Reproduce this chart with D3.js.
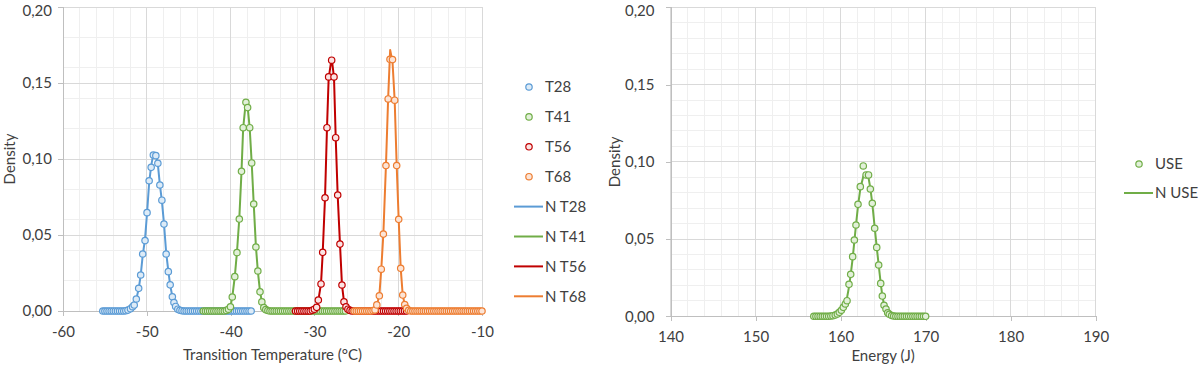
<!DOCTYPE html>
<html><head><meta charset="utf-8">
<script src="https://cdn.jsdelivr.net/npm/d3@7"></script>
<style>
body{margin:0;background:#fff}
svg{display:block}
text{font-family:Lato,"Open Sans",sans-serif;fill:#404040}
</style>
</head><body>
<svg id="c" width="1200" height="367"></svg>
<script>
// ---------- DATA ----------
const leftXTicks = [-60, -50, -40, -30, -20, -10];
const rightXTicks = [140, 150, 160, 170, 180, 190];
const yTicks = [0, 0.05, 0.10, 0.15, 0.20];
const leftXTitle = "Transition Temperature (°C)";
const rightXTitle = "Energy (J)";
const yTitle = "Density";
const leftNames = ["T28", "T41", "T56", "T68", "N T28", "N T41", "N T56", "N T68"];
const rightNames = ["USE", "N USE"];

const t28 = [[-55.25,0],[-55,0],[-54.75,0],[-54.5,0],[-54.25,0],[-54,0],[-53.75,0],[-53.5,0],[-53.25,0],[-53,0],[-52.75,0],[-52.5,0.0002],[-52.25,0.0006],
 [-51.95,0.0015],[-51.7,0.0028],[-51.5,0.0039],[-51.25,0.0079],[-50.97,0.0149],[-50.73,0.0237],[-50.49,0.0375],[-50.21,0.0463],[-49.97,0.0647],[-49.72,0.0857],[-49.48,0.0945],[-49.22,0.1026],[-48.92,0.1022],[-48.68,0.0972],[-48.44,0.0829],[-48.2,0.0729],[-47.95,0.0572],[-47.69,0.0375],[-47.43,0.0259],[-47.21,0.0172],[-46.95,0.0093],[-46.76,0.0056],[-46.56,0.003],[-46.3,0.0012],
 [-46.05,0.0005],[-45.8,0.0002],[-45.55,0],[-45.3,0],[-45.05,0],[-44.8,0],[-44.55,0],[-44.3,0],[-44.05,0],[-43.8,0],[-43.55,0],[-43.3,0],[-43.05,0],[-42.8,0],[-42.55,0],[-42.3,0],[-42.05,0],[-41.8,0],[-41.55,0],[-41.3,0],[-41.05,0],[-40.8,0],[-40.55,0],[-40.3,0],[-40.05,0],[-39.8,0],[-39.55,0],[-39.3,0],[-39.05,0],[-38.8,0],[-38.55,0],[-38.3,0],[-38.05,0],[-37.8,0],[-37.55,0]];

const t41 = [[-43.25,0],[-43,0],[-42.75,0],[-42.5,0],[-42.25,0],[-42,0],[-41.75,0],[-41.5,0],[-41.25,0],[-41,0],[-40.75,0],[-40.5,0.0004],[-40.25,0.0012],
 [-40.02,0.0028],[-39.8,0.0092],[-39.5,0.0226],[-39.24,0.0384],[-38.96,0.0605],[-38.7,0.0919],[-38.5,0.1206],[-38.17,0.1373],[-37.97,0.1338],[-37.72,0.1206],[-37.48,0.0974],[-37.24,0.0704],[-36.98,0.0421],[-36.75,0.0263],[-36.49,0.0126],[-36.27,0.006],[-36.04,0.0022],
 [-35.8,0.0009],[-35.55,0.0003],[-35.3,0],[-35.05,0],[-34.8,0],[-34.55,0],[-34.3,0],[-34.05,0],[-33.8,0],[-33.55,0],[-33.3,0],[-33.05,0],[-32.8,0],[-32.55,0],[-32.3,0],[-32.05,0],[-31.8,0],[-31.55,0],[-31.3,0],[-31.05,0],[-30.8,0],[-30.55,0],[-30.3,0],[-30.05,0],[-29.8,0],[-29.55,0],[-29.3,0],[-29.05,0],[-28.8,0],[-28.55,0],[-28.3,0],[-28.05,0],[-27.8,0],[-27.55,0],[-27.3,0],[-27.05,0],[-26.8,0],[-26.55,0],[-26.3,0]];

const t56 = [[-32.25,0],[-32,0],[-31.75,0],[-31.5,0],[-31.25,0],[-31,0],[-30.75,0],[-30.5,0],[-30.25,0.0005],[-30,0.0012],
 [-29.73,0.0024],[-29.53,0.0072],[-29.21,0.0178],[-29.01,0.0386],[-28.73,0.0745],[-28.5,0.1206],[-28.3,0.154],[-27.94,0.165],[-27.66,0.154],[-27.46,0.114],[-27.22,0.0763],[-26.95,0.044],[-26.71,0.0171],[-26.47,0.0061],[-26.23,0.0028],
 [-26,0.0012],[-25.75,0.0004],[-25.5,0],[-25.25,0],[-25,0],[-24.75,0],[-24.5,0],[-24.25,0],[-24,0],[-23.75,0],[-23.5,0],[-23.25,0],[-23,0],[-22.75,0],[-22.5,0],[-22.25,0],[-22,0],[-21.75,0],[-21.5,0],[-21.25,0],[-21,0],[-20.75,0],[-20.5,0],[-20.25,0],[-20,0],[-19.75,0],[-19.5,0],[-19.25,0],[-19,0]];

const t68 = [[-25.25,0],[-25,0],[-24.75,0],[-24.5,0],[-24.25,0],[-24,0],[-23.75,0],[-23.5,0],[-23.25,0],[-23,0.0003],
 [-22.77,0.0007],[-22.55,0.004],[-22.25,0.01],[-22.02,0.0275],[-21.77,0.0506],[-21.46,0.0957],[-21.2,0.1395],[-20.98,0.1656],[-20.68,0.1654],[-20.42,0.1387],[-20.18,0.0957],[-19.94,0.0603],[-19.7,0.0281],[-19.46,0.0105],[-19.22,0.0042],[-19,0.0018],
 [-18.75,0.0005],[-18.5,0],[-18.25,0],[-18,0],[-17.75,0],[-17.5,0],[-17.25,0],[-17,0],[-16.75,0],[-16.5,0],[-16.25,0],[-16,0],[-15.75,0],[-15.5,0],[-15.25,0],[-15,0],[-14.75,0],[-14.5,0],[-14.25,0],[-14,0],[-13.75,0],[-13.5,0],[-13.25,0],[-13,0],[-12.75,0],[-12.5,0],[-12.25,0],[-12,0],[-11.75,0],[-11.5,0],[-11.25,0],[-11,0],[-10.75,0],[-10.5,0],[-10.25,0],[-10,0]];

const nT28 = [[-55.25,0],[-52.5,0.0003],[-52.25,0.0007],[-51.95,0.0015],[-51.7,0.0027],[-51.5,0.0042],[-51.25,0.0078],[-50.97,0.0146],[-50.73,0.0235],[-50.49,0.0365],[-50.21,0.0475],[-49.97,0.0645],[-49.72,0.0845],[-49.48,0.0955],[-49.22,0.1032],[-48.92,0.1028],[-48.68,0.0965],[-48.44,0.0832],[-48.2,0.0725],[-47.95,0.0575],[-47.69,0.0385],[-47.43,0.0262],[-47.21,0.017],[-46.95,0.0095],[-46.76,0.0056],[-46.56,0.003],[-46.3,0.0012],[-46.05,0.0005],[-37.55,0]];
const nT41 = [[-43.25,0],[-40.5,0.0004],[-40.25,0.0012],[-40.02,0.0028],[-39.8,0.0092],[-39.5,0.0226],[-39.24,0.0388],[-38.96,0.061],[-38.7,0.0915],[-38.5,0.1203],[-38.17,0.1385],[-37.97,0.1345],[-37.72,0.1203],[-37.48,0.0972],[-37.24,0.0705],[-36.98,0.0425],[-36.75,0.0262],[-36.49,0.0128],[-36.27,0.0062],[-36.04,0.0024],[-35.8,0.0009],[-35.55,0.0003],[-26.3,0]];
const nT56 = [[-32.25,0],[-30.25,0.0005],[-30,0.0012],[-29.73,0.0026],[-29.53,0.007],[-29.21,0.018],[-29.01,0.038],[-28.73,0.075],[-28.5,0.12],[-28.3,0.153],[-27.94,0.1665],[-27.66,0.1535],[-27.46,0.1145],[-27.22,0.076],[-26.95,0.0445],[-26.71,0.0172],[-26.47,0.0062],[-26.23,0.0028],[-26,0.0012],[-25.75,0.0004],[-19,0]];
const nT68 = [[-25.25,0],[-23,0.0003],[-22.77,0.0008],[-22.55,0.004],[-22.25,0.0102],[-22.02,0.0275],[-21.77,0.0508],[-21.46,0.096],[-21.2,0.14],[-20.96,0.1717],[-20.68,0.164],[-20.42,0.1385],[-20.18,0.0955],[-19.94,0.06],[-19.7,0.028],[-19.46,0.0105],[-19.22,0.0042],[-19,0.0018],[-18.75,0.0005],[-10,0]];

const use = [[156.85,0],[157.1,0],[157.35,0],[157.6,0],[157.85,0],[158.1,0],[158.35,0],[158.6,0],[158.85,0.0002],[159.1,0.0004],[159.37,0.0008],
 [159.62,0.0015],[159.85,0.0026],[160.09,0.0039],[160.32,0.0058],[160.56,0.008],[160.76,0.0101],[160.99,0.0207],[161.19,0.0272],[161.42,0.0386],[161.62,0.0494],[161.81,0.0591],[162.05,0.0725],[162.32,0.0839],[162.67,0.0973],[163,0.0915],[163.29,0.0915],[163.5,0.0824],[163.73,0.0731],[164.01,0.057],[164.25,0.0446],[164.48,0.0332],[164.72,0.0213],[164.91,0.0131],[165.11,0.0071],[165.34,0.0047],[165.54,0.0023],[165.73,0.0013],[166.01,0.0005],
 [166.25,0.0002],[166.5,0],[166.75,0],[167,0],[167.25,0],[167.5,0],[167.75,0],[168,0],[168.25,0],[168.5,0],[168.75,0],[169,0],[169.25,0],[169.5,0],[169.75,0],[170,0]];
const nUse = [[156.85,0],[159.1,0.0004],[159.37,0.0008],[159.62,0.0015],[159.85,0.0025],[160.09,0.004],[160.32,0.006],[160.56,0.0085],[160.76,0.012],[160.99,0.019],[161.19,0.027],[161.42,0.0375],[161.62,0.0485],[161.81,0.059],[162.05,0.0715],[162.32,0.0825],[162.67,0.0905],[162.92,0.0922],[163.29,0.0895],[163.5,0.083],[163.73,0.073],[164.01,0.0575],[164.25,0.0448],[164.48,0.0332],[164.72,0.0213],[164.91,0.0132],[165.11,0.0075],[165.34,0.0045],[165.54,0.0025],[165.73,0.0013],[166.01,0.0005],[170,0]];

// ---------- STYLE ----------
const C = {blue:"#5B9BD5", green:"#70AD47", red:"#C00000", orange:"#ED7D31"};
const F = {blue:"#DDEBF7", green:"#E2F0D9", red:"#FBE3E3", orange:"#FCE4D6"};
const fmt = d => d3.format(".2f")(d).replace(".", ",");

const svg = d3.select("#c");

function panel(o) {
  const x = d3.scaleLinear().domain(o.xDomain).range(o.xRange);
  const y = d3.scaleLinear().domain([0, 0.2]).range(o.yRange);
  const g = svg.append("g");
  const [x0, x1] = o.xRange, [y0, y1] = o.yRange;

  // minor grid
  g.append("g").selectAll("line").data(x.ticks(25)).join("line")
    .attr("x1", d => x(d)).attr("x2", d => x(d)).attr("y1", y0).attr("y2", y1)
    .attr("stroke", "#EFEFEF").attr("stroke-width", 1).attr("shape-rendering", "crispEdges");
  g.append("g").selectAll("line").data(y.ticks(o.yMinor)).join("line")
    .attr("x1", x0).attr("x2", x1).attr("y1", d => y(d)).attr("y2", d => y(d))
    .attr("stroke", "#EFEFEF").attr("stroke-width", 1).attr("shape-rendering", "crispEdges");
  // major grid
  g.append("g").selectAll("line").data(o.xTicks).join("line")
    .attr("x1", d => x(d)).attr("x2", d => x(d)).attr("y1", y0).attr("y2", y1)
    .attr("stroke", "#D9D9D9").attr("stroke-width", 1).attr("shape-rendering", "crispEdges");
  g.append("g").selectAll("line").data(yTicks).join("line")
    .attr("x1", x0).attr("x2", x1).attr("y1", d => y(d)).attr("y2", d => y(d))
    .attr("stroke", "#D9D9D9").attr("stroke-width", 1).attr("shape-rendering", "crispEdges");

  // axes
  const ax = g.append("g").attr("transform", `translate(0,${y0})`)
    .call(d3.axisBottom(x).tickValues(o.xTicks).tickSize(5).tickPadding(10).tickFormat(d => d));
  const ay = g.append("g").attr("transform", `translate(${x0},0)`)
    .call(d3.axisLeft(y).tickValues(yTicks).tickSize(5).tickPadding(o.yPad).tickFormat(fmt));
  [ax, ay].forEach(a => {
    a.select(".domain").attr("stroke", "#BFBFBF").attr("shape-rendering", "crispEdges");
    a.selectAll(".tick line").attr("stroke", "#BFBFBF").attr("shape-rendering", "crispEdges");
    a.selectAll(".tick text").style("font-family", "Lato, sans-serif").style("font-size", "15px").attr("fill", "#404040");
  });
  // keep the top label inside the picture
  ay.selectAll(".tick text").filter(d => d === 0.2).attr("dy", "0.55em");

  // titles
  g.append("text").attr("x", (x0 + x1) / 2).attr("y", o.xTitleY).attr("text-anchor", "middle")
    .style("font-size", "15px").text(o.xTitle);
  g.append("text").attr("transform", `translate(${o.yTitleX},${(y0 + y1) / 2}) rotate(-90)`)
    .attr("text-anchor", "middle").attr("dy", "0.35em").style("font-size", "15px").text(yTitle);

  const line = d3.line().x(d => x(d[0])).y(d => y(d[1]));
  o.lines.forEach(s => {
    g.append("path").datum(s.data).attr("d", line).attr("fill", "none")
      .attr("stroke", s.color).attr("stroke-width", 2).attr("stroke-linejoin", "round");
  });
  o.markers.forEach(s => {
    g.append("g").selectAll("circle").data(s.data).join("circle")
      .attr("cx", d => x(d[0])).attr("cy", d => y(d[1])).attr("r", 3.2)
      .attr("fill", s.fill).attr("stroke", s.color).attr("stroke-width", 1.2);
  });

  // legend
  const lg = g.append("g");
  o.legend.forEach((e, i) => {
    const yy = o.legY + i * o.legStep;
    if (e.type === "m") {
      lg.append("circle").attr("cx", o.legX - 16).attr("cy", yy).attr("r", 3.2)
        .attr("fill", e.fill).attr("stroke", e.color).attr("stroke-width", 1.2);
    } else {
      lg.append("line").attr("x1", o.legX - 31).attr("x2", o.legX - 2).attr("y1", yy).attr("y2", yy)
        .attr("stroke", e.color).attr("stroke-width", 2);
    }
    lg.append("text").attr("x", o.legX).attr("y", yy).attr("dy", "0.36em").style("font-size", "15px").text(e.name);
  });
}

panel({
  xDomain: [-60, -10], xRange: [63, 482], yRange: [311, 7], xTicks: leftXTicks, yMinor: 10,
  yPad: 6, xTitle: leftXTitle, xTitleY: 360, yTitleX: 10,
  lines: [{data: nT28, color: C.blue}, {data: nT41, color: C.green}, {data: nT56, color: C.red}, {data: nT68, color: C.orange}],
  markers: [{data: t28, color: C.blue, fill: F.blue}, {data: t41, color: C.green, fill: F.green},
            {data: t56, color: C.red, fill: F.red}, {data: t68, color: C.orange, fill: F.orange}],
  legX: 545, legY: 87, legStep: 29.9,
  legend: [
    {name: leftNames[0], type: "m", color: C.blue, fill: F.blue},
    {name: leftNames[1], type: "m", color: C.green, fill: F.green},
    {name: leftNames[2], type: "m", color: C.red, fill: F.red},
    {name: leftNames[3], type: "m", color: C.orange, fill: F.orange},
    {name: leftNames[4], type: "l", color: C.blue},
    {name: leftNames[5], type: "l", color: C.green},
    {name: leftNames[6], type: "l", color: C.red},
    {name: leftNames[7], type: "l", color: C.orange}
  ]
});

panel({
  xDomain: [140, 190], xRange: [670.5, 1095.7], yRange: [316.3, 7.3], xTicks: rightXTicks, yMinor: 20,
  yPad: 11, xTitle: rightXTitle, xTitleY: 361, yTitleX: 615,
  lines: [{data: nUse, color: C.green}],
  markers: [{data: use, color: C.green, fill: F.green}],
  legX: 1155, legY: 164, legStep: 29,
  legend: [
    {name: rightNames[0], type: "m", color: C.green, fill: F.green},
    {name: rightNames[1], type: "l", color: C.green}
  ]
});
</script>
</body></html>
